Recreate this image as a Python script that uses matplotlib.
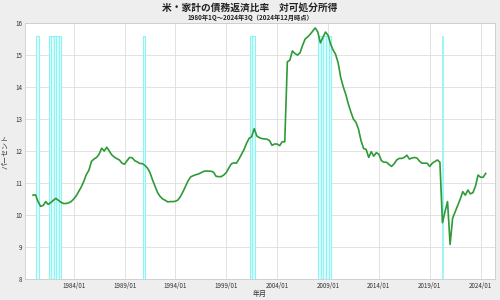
import matplotlib
matplotlib.use("Agg")
import matplotlib.pyplot as plt
import matplotlib.dates as mdates
import pandas as pd

plt.rcParams['font.family'] = ['Noto Sans CJK JP', 'DejaVu Sans']

# 債務返済比率（%）, 1980Q1〜2024Q3
dsr = [
    10.62, 10.63, 10.42, 10.27, 10.30, 10.42, 10.33, 10.39, 10.46, 10.52,  # 1980Q1-1982Q2
    10.46, 10.40, 10.36, 10.36, 10.38, 10.42, 10.50, 10.60, 10.74, 10.88,  # -1984Q4
    11.06, 11.27, 11.40, 11.68, 11.75, 11.80, 11.90, 12.09, 12.00, 12.12,  # -1987Q2
    12.00, 11.88, 11.81, 11.76, 11.72, 11.62, 11.59, 11.70, 11.80, 11.79,  # -1989Q4
    11.70, 11.66, 11.61, 11.61, 11.55, 11.47, 11.33, 11.10, 10.90, 10.70,  # -1992Q2
    10.58, 10.50, 10.46, 10.41, 10.42, 10.42, 10.43, 10.47, 10.58, 10.73,  # -1994Q4
    10.90, 11.07, 11.19, 11.23, 11.26, 11.28, 11.32, 11.36, 11.38, 11.37,  # -1997Q2
    11.37, 11.34, 11.21, 11.20, 11.20, 11.25, 11.33, 11.47, 11.60, 11.63,  # -1999Q4
    11.62, 11.75, 11.90, 12.05, 12.25, 12.40, 12.45, 12.70, 12.47, 12.42,  # -2002Q2
    12.39, 12.38, 12.37, 12.33, 12.18, 12.22, 12.22, 12.17, 12.29, 12.29,  # -2004Q4
    14.79, 14.84, 15.13, 15.05, 15.00, 15.07, 15.30, 15.50, 15.57, 15.65,  # -2007Q2
    15.75, 15.85, 15.72, 15.38, 15.55, 15.72, 15.62, 15.35, 15.16, 15.02,  # -2009Q4
    14.75, 14.30, 14.01, 13.77, 13.47, 13.22, 13.00, 12.90, 12.68, 12.32,  # -2012Q2
    12.08, 12.05, 11.80, 11.98, 11.84, 11.95, 11.90, 11.70, 11.65, 11.65,  # -2014Q4
    11.58, 11.52, 11.60, 11.72, 11.77, 11.77, 11.80, 11.87, 11.75, 11.78,  # -2017Q2
    11.80, 11.78, 11.68, 11.62, 11.62, 11.62, 11.52, 11.62, 11.67, 11.72,  # -2019Q4
    11.65, 9.76, 10.10, 10.42, 9.08, 9.90, 10.10, 10.30, 10.50, 10.73,    # -2022Q2
    10.62, 10.78, 10.66, 10.70, 10.90, 11.25, 11.18, 11.18, 11.30,        # -2024Q3
]
dates = pd.date_range('1980-01-01', periods=len(dsr), freq='QS')

# 景気後退期（四半期）
recession_q = ['1980-04-01', '1981-07-01', '1981-10-01', '1982-01-01', '1982-04-01',
               '1982-07-01', '1990-10-01', '2001-04-01', '2001-07-01', '2008-01-01',
               '2008-04-01', '2008-07-01', '2008-10-01', '2009-01-01']
recession_line = ['2020-04-10']
rec_top = 15.6

tick_years = list(range(1984, 2025, 5))

fig = plt.figure(figsize=(5, 3), dpi=100, facecolor='#eeeeee')
ax = fig.add_axes([0.05, 0.07, 0.94, 0.853])
ax.set_facecolor('white')

rq = pd.to_datetime(recession_q) + pd.Timedelta(days=18)
ax.bar(rq, [rec_top - 8] * len(rq), width=91, bottom=8, align='edge',
       color='#e0ffff', edgecolor='#8ff3f3', linewidth=0.8, zorder=1)
ax.vlines(pd.to_datetime(recession_line), 8, rec_top, color='#8ff3f3', lw=1.2, zorder=1)

ax.plot(dates, dsr, color='#2e9a38', lw=1.2, zorder=3)

ax.set_ylim(8, 16)
ax.set_yticks(range(8, 17))
ax.set_xlim(pd.Timestamp('1979-03-20'), pd.Timestamp('2025-06-01'))
ax.set_xticks([pd.Timestamp(f'{y}-01-01') for y in tick_years])
ax.xaxis.set_major_formatter(mdates.DateFormatter('%Y/%m'))
ax.grid(True, color='#dddddd', lw=0.6, zorder=0)
ax.set_axisbelow(True)
ax.tick_params(labelsize=4.5, length=0, pad=2, colors='#333333')
for s in ax.spines.values():
    s.set_color('#cccccc')
    s.set_linewidth(0.6)

ax.set_xlabel('年月', fontsize=5, labelpad=0, color='#333333')
ax.set_ylabel('パーセント', fontsize=5, labelpad=4, color='#333333')

fig.text(0.5, 0.975, '米・家計の債務返済比率　対可処分所得', ha='center', va='center',
         fontsize=7, fontweight='bold', color='#222222')
fig.text(0.5, 0.943, '1980年1Q～2024年3Q（2024年12月時点）', ha='center', va='center',
         fontsize=4.5, fontweight='bold', color='#222222')

fig.savefig('out.png', dpi=100, facecolor=fig.get_facecolor())
